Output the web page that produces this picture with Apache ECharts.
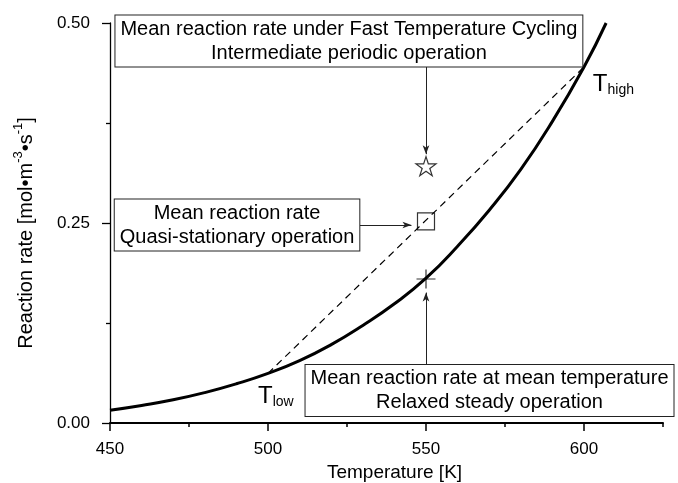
<!DOCTYPE html>
<html>
<head>
<meta charset="utf-8">
<script src="https://cdn.jsdelivr.net/npm/echarts@6/dist/echarts.min.js"></script>
<style>
  html, body { margin: 0; padding: 0; background: #fff; }
  #chart { width: 678px; height: 483px; }
</style>
</head>
<body>
<div id="chart"></div>
<script>
// steady-state rate curve
const temps = [450, 460, 470, 480, 490, 500, 510, 520, 530, 540, 550, 560, 570, 580, 590, 600, 607];
const rates = [0.016, 0.022, 0.029, 0.038, 0.049, 0.062, 0.078, 0.098, 0.122, 0.149, 0.181, 0.221, 0.266, 0.317, 0.377, 0.445, 0.500];

// chord between T_low and T_high
const chordT = [500, 600];
const chordRate = [0.062, 0.445];

// mean rates at the mean temperature
const markerT = 550;
const starRate = 0.321;
const squareRate = 0.252;
const crossRate = 0.180;

const xTicks = [450, 500, 550, 600];

// annotation boxes: centre [T, rate] and text
const noteT = [525.6, 490.2, 570.1];
const noteRate = [0.4775, 0.2475, 0.0405];
const noteText = [
  'Mean reaction rate under Fast Temperature Cycling\nIntermediate periodic operation',
  'Mean reaction rate\nQuasi-stationary operation',
  'Mean reaction rate at mean temperature\nRelaxed steady operation'
];

// arrows: [fromT, fromRate, toT, toRate]
const arrows = [
  [550, 0.445, 550, 0.336],
  [528.8, 0.2475, 545.4, 0.2475],
  [550, 0.0715, 550, 0.163]
];

// T_low / T_high labels
const tLabelT = [502.5, 609.3];
const tLabelRate = [0.034, 0.424];
const tLabelSub = ['low', 'high'];

const font = '"Liberation Sans", Arial, sans-serif';
const starPath = 'path://M10,0L12.245,6.91L19.511,6.91L13.633,11.18L15.878,18.09L10,13.82L4.122,18.09L6.367,11.18L0.489,6.91L7.755,6.91Z';
const crossPath = 'path://M10,0L10,20M0,10L20,10';

const chart = echarts.init(document.getElementById('chart'));

const option = {
  animation: false,
  backgroundColor: '#fff',
  textStyle: { fontFamily: font, color: '#000' },
  grid: { left: 110, top: 23, right: 15, bottom: 60, containLabel: false, outerBoundsMode: 'none' },
  xAxis: [
    {
      type: 'value', min: 450, max: 625, interval: 50, position: 'bottom',
      axisLine: { show: true, onZero: false, lineStyle: { color: '#000', width: 2 } },
      axisTick: { show: true, length: 8, customValues: xTicks, lineStyle: { color: '#000', width: 1.5 } },
      axisLabel: { customValues: xTicks, color: '#000', fontSize: 17, margin: 18, fontFamily: font },
      splitLine: { show: false },
      name: 'Temperature [K]', nameLocation: 'middle', nameGap: 34,
      nameTextStyle: { color: '#000', fontSize: 19, fontFamily: font, padding: [0, 0, 0, 16] }
    },
    {
      type: 'value', min: 450, max: 625, interval: 25, position: 'bottom',
      axisLine: { show: false },
      axisTick: { show: true, length: 4, lineStyle: { color: '#000', width: 1.5 } },
      axisLabel: { show: false },
      splitLine: { show: false }
    }
  ],
  yAxis: {
    type: 'value', min: 0, max: 0.5, interval: 0.25,
    axisLine: { show: true, onZero: false, lineStyle: { color: '#000', width: 1.3 } },
    axisTick: { show: true, length: 8, lineStyle: { color: '#000', width: 1.3 } },
    minorTick: { show: true, splitNumber: 2, length: 4, lineStyle: { color: '#000', width: 1.3 } },
    axisLabel: { color: '#000', fontSize: 17, margin: 20, fontFamily: font, formatter: v => v.toFixed(2) },
    splitLine: { show: false },
    name: '{n|Reaction rate [mol•m}{p|-3}{n|•s}{p|-1}{n|]}',
    nameLocation: 'middle', nameGap: 74, nameRotate: 90,
    nameTextStyle: {
      color: '#000', fontFamily: font, fontSize: 20, padding: [0, 20, 0, 0],
      rich: {
        n: { fontSize: 20, lineHeight: 24, fontFamily: font, color: '#000', verticalAlign: 'bottom' },
        p: { fontSize: 13, lineHeight: 12, fontFamily: font, color: '#000', verticalAlign: 'top' }
      }
    }
  },
  series: [
    {
      name: 'chord', type: 'line', symbol: 'none', silent: true, z: 2,
      data: chordT.map((t, i) => [t, chordRate[i]]),
      lineStyle: { color: '#000', width: 1.2, type: [7, 5] }
    },
    {
      name: 'rate', type: 'line', symbol: 'none', smooth: true, silent: true, z: 3,
      data: temps.map((t, i) => [t, rates[i]]),
      lineStyle: { color: '#000', width: 3 }
    },
    {
      name: 'means', type: 'scatter', silent: true, z: 4,
      itemStyle: { color: 'rgba(0,0,0,0)', borderColor: '#000', borderWidth: 1.2 },
      data: [
        { value: [markerT, starRate], symbol: starPath, symbolSize: [20, 19] },
        { value: [markerT, squareRate], symbol: 'rect', symbolSize: 17 },
        { value: [markerT, crossRate], symbol: crossPath, symbolSize: 19 }
      ]
    },
    {
      name: 'notes', type: 'scatter', silent: true, z: 6, symbolSize: 0,
      data: noteT.map((t, i) => ({ value: [t, noteRate[i]], label: { formatter: noteText[i] } })),
      label: {
        show: true, position: 'inside', color: '#000', fontSize: 20, lineHeight: 24, fontFamily: font,
        textBorderWidth: 0, opacity: 1,
        align: 'center', backgroundColor: '#fff', borderColor: '#222', borderWidth: 1, padding: [2, 5, 1, 5]
      },
      markLine: {
        silent: true, animation: false, symbol: ['none', 'arrow'], symbolSize: [5, 9],
        label: { show: false },
        lineStyle: { color: '#222', width: 1, type: 'solid' },
        data: arrows.map(a => [{ coord: [a[0], a[1]] }, { coord: [a[2], a[3]] }])
      }
    },
    {
      name: 'tlabels', type: 'scatter', silent: true, z: 5, symbolSize: 0,
      data: tLabelT.map((t, i) => ({ value: [t, tLabelRate[i]], label: { formatter: '{t|T}{s|' + tLabelSub[i] + '}' } })),
      label: {
        show: true, position: 'inside', textBorderWidth: 0, opacity: 1,
        rich: {
          t: { fontSize: 24, lineHeight: 26, fontFamily: font, color: '#000', verticalAlign: 'bottom' },
          s: { fontSize: 14, lineHeight: 6, fontFamily: font, color: '#000', verticalAlign: 'bottom' }
        }
      }
    }
  ]
};

chart.setOption(option);
</script>
</body>
</html>
